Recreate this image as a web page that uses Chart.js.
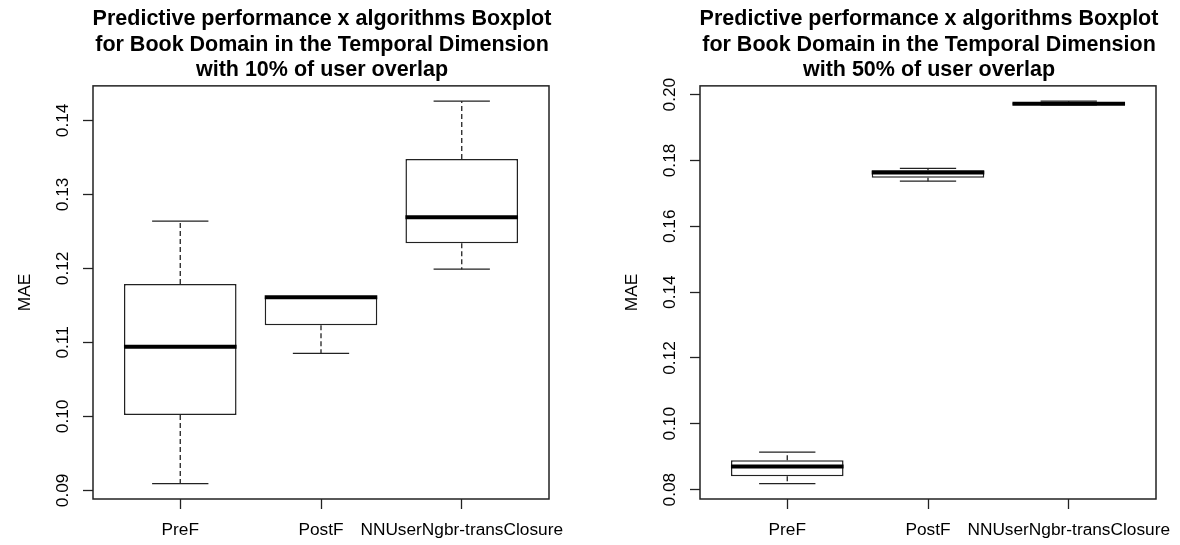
<!DOCTYPE html>
<html>
<head>
<meta charset="utf-8">
<script src="https://cdn.jsdelivr.net/npm/chart.js@4/dist/chart.umd.min.js"></script>
<style>
  html, body { margin: 0; padding: 0; background: #fff; overflow: hidden; }
  .panel { position: absolute; top: 0; width: 644px; height: 545px; }
  #panelA { left: 0; }
  #panelB { left: 607px; }
</style>
</head>
<body>
<div class="panel" id="panelA"><canvas id="chartA" width="644" height="545"></canvas></div>
<div class="panel" id="panelB"><canvas id="chartB" width="644" height="545"></canvas></div>
<script>
// Algorithms compared on the x axis
const categories = ['PreF', 'PostF', 'NNUserNgbr-transClosure'];

// MAE five-number summaries, 10% user overlap
const lowerWhisker10 = [0.0909, 0.1085, 0.1199];
const lowerQuartile10 = [0.1002, 0.1123, 0.1234];
const median10 = [0.1094, 0.1161, 0.1269];
const upperQuartile10 = [0.1179, 0.1161, 0.1348];
const upperWhisker10 = [0.1264, 0.1161, 0.1426];

// MAE five-number summaries, 50% user overlap
const lowerWhisker50 = [0.0818, 0.1737, 0.1969];
const lowerQuartile50 = [0.0841, 0.1747, 0.1969];
const median50 = [0.0870, 0.1763, 0.1972];
const upperQuartile50 = [0.0889, 0.1770, 0.1975];
const upperWhisker50 = [0.0914, 0.1776, 0.1980];

// y-axis tick values
const yTicks10 = [0.09, 0.10, 0.11, 0.12, 0.13, 0.14];
const yTicks50 = [0.08, 0.10, 0.12, 0.14, 0.16, 0.18, 0.20];

const title10 = ['Predictive performance x algorithms Boxplot',
                 'for Book Domain in the Temporal Dimension',
                 'with 10% of user overlap'];
const title50 = ['Predictive performance x algorithms Boxplot',
                 'for Book Domain in the Temporal Dimension',
                 'with 50% of user overlap'];

const FONT = '"Liberation Sans", Arial, Helvetica, sans-serif';
const INK = '#222';

// Whiskers, staples, medians and the plot frame, drawn from the chart scales
const boxWhiskers = {
  id: 'boxWhiskers',
  afterDatasetsDraw(chart, args, opts) {
    const { ctx, chartArea } = chart;
    const x = chart.scales.x, y = chart.scales.y;
    const meta = chart.getDatasetMeta(0);
    ctx.save();
    meta.data.forEach((bar, i) => {
      const cx = x.getPixelForValue(i + 1);
      const half = bar.width / 2;
      const staple = half / 2;
      const pLow = y.getPixelForValue(opts.low[i]);
      const pQ1 = y.getPixelForValue(opts.q1[i]);
      const pQ3 = y.getPixelForValue(opts.q3[i]);
      const pHigh = y.getPixelForValue(opts.high[i]);
      const pMed = y.getPixelForValue(opts.med[i]);

      ctx.strokeStyle = INK;
      ctx.lineWidth = 1.3;
      ctx.setLineDash([5, 3]);
      ctx.beginPath();
      ctx.moveTo(cx, pQ3); ctx.lineTo(cx, pHigh);
      ctx.moveTo(cx, pQ1); ctx.lineTo(cx, pLow);
      ctx.stroke();

      ctx.setLineDash([]);
      ctx.beginPath();
      ctx.moveTo(cx - staple, pHigh); ctx.lineTo(cx + staple, pHigh);
      ctx.moveTo(cx - staple, pLow); ctx.lineTo(cx + staple, pLow);
      ctx.stroke();

      ctx.strokeStyle = '#000';
      ctx.lineWidth = 4;
      ctx.beginPath();
      ctx.moveTo(cx - half, pMed); ctx.lineTo(cx + half, pMed);
      ctx.stroke();
    });
    ctx.strokeStyle = INK;
    ctx.lineWidth = 1.5;
    ctx.strokeRect(chartArea.left, chartArea.top,
                   chartArea.right - chartArea.left, chartArea.bottom - chartArea.top);
    ctx.restore();
  }
};

function makeBoxplot(canvasId, title, low, q1, med, q3, high, yTicks) {
  const lo = Math.min(...low), hi = Math.max(...high);
  const pad = 0.04 * (hi - lo);
  const n = categories.length;
  const xPad = 0.04 * n;

  new Chart(document.getElementById(canvasId), {
    type: 'bar',
    data: {
      datasets: [{
        data: categories.map((c, i) => ({ x: i + 1, y: [q1[i], q3[i]] })),
        backgroundColor: '#fff',
        borderColor: INK,
        borderWidth: 1.5,
        borderSkipped: false,
        categoryPercentage: 1,
        barPercentage: 0.8
      }]
    },
    options: {
      responsive: false,
      animation: false,
      devicePixelRatio: 1,
      events: [],
      layout: { padding: 0 },
      plugins: {
        legend: { display: false },
        tooltip: { enabled: false },
        title: {
          display: true,
          text: title,
          color: '#000',
          font: { family: FONT, size: 21.5, weight: 'bold', lineHeight: 1.17 },
          padding: { top: 7, bottom: 3.4 }
        },
        boxWhiskers: { low, q1, med, q3, high }
      },
      scales: {
        x: {
          type: 'linear',
          offset: false,
          min: 0.5 - xPad,
          max: n + 0.5 + xPad,
          afterBuildTicks: s => { s.ticks = categories.map((c, i) => ({ value: i + 1 })); },
          afterFit: s => { s.height = 46; },
          border: { display: false },
          grid: { display: true, offset: false, drawOnChartArea: false, drawTicks: true, tickLength: 10, tickColor: INK, tickWidth: 1.3 },
          ticks: {
            autoSkip: false, maxRotation: 0, minRotation: 0, padding: 11,
            color: '#000', font: { family: FONT, size: 17.3 },
            callback: v => categories[Math.round(v) - 1]
          }
        },
        y: {
          type: 'linear',
          position: 'left',
          min: lo - pad,
          max: hi + pad,
          afterBuildTicks: s => { s.ticks = yTicks.map(v => ({ value: v })); },
          afterFit: s => { s.width = 93; },
          border: { display: false },
          grid: { display: true, drawOnChartArea: false, drawTicks: true, tickLength: 10, tickColor: INK, tickWidth: 1.3 },
          ticks: {
            autoSkip: false, minRotation: 90, maxRotation: 90, crossAlign: 'center', padding: 2.5,
            color: '#000', font: { family: FONT, size: 17.3 },
            callback: v => v.toFixed(2)
          },
          title: {
            display: true, text: 'MAE', color: '#000',
            font: { family: FONT, size: 17.3 },
            padding: { top: 14.5, bottom: 0 }
          }
        },
        yRight: {
          type: 'linear',
          position: 'right',
          display: true,
          afterFit: s => { s.width = 95; },
          border: { display: false },
          grid: { display: false },
          ticks: { display: false }
        }
      }
    },
    plugins: [boxWhiskers]
  });
}

makeBoxplot('chartA', title10, lowerWhisker10, lowerQuartile10, median10, upperQuartile10, upperWhisker10, yTicks10);
makeBoxplot('chartB', title50, lowerWhisker50, lowerQuartile50, median50, upperQuartile50, upperWhisker50, yTicks50);
</script>
</body>
</html>
